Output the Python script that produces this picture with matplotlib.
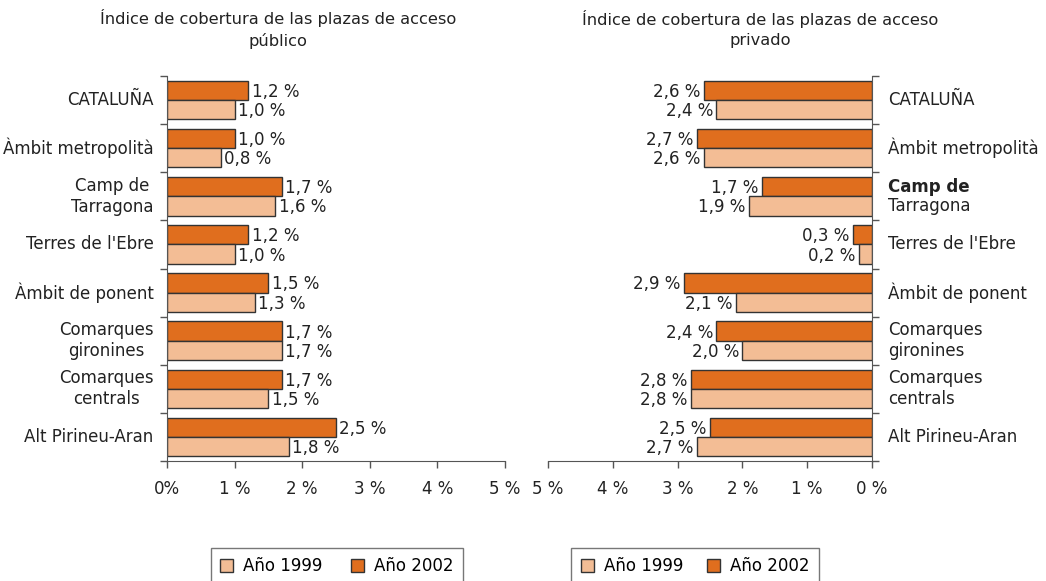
import matplotlib.pyplot as plt
from matplotlib.patches import Patch
import numpy as np

regions = ["CATALUÑA", "Àmbit metropolità", "Camp de\nTarragona", "Terres de l'Ebre",
           "Àmbit de ponent", "Comarques\ngironines", "Comarques\ncentrals", "Alt Pirineu-Aran"]

public_2002 = [1.2, 1.0, 1.7, 1.2, 1.5, 1.7, 1.7, 2.5]
public_1999 = [1.0, 0.8, 1.6, 1.0, 1.3, 1.7, 1.5, 1.8]
private_2002 = [2.6, 2.7, 1.7, 0.3, 2.9, 2.4, 2.8, 2.5]
private_1999 = [2.4, 2.6, 1.9, 0.2, 2.1, 2.0, 2.8, 2.7]

left_ticks = ["0%", "1 %", "2 %", "3 %", "4 %", "5 %"]
right_ticks = ["0 %", "1 %", "2 %", "3 %", "4 %", "5 %"]

c02 = "#E06E1E"
c99 = "#F3BD95"
edge = "#333333"
txt = "#222222"
fs = 12

plt.rcParams["font.family"] = "DejaVu Sans"
fig = plt.figure(figsize=(10.46, 5.81), dpi=100)

ax1 = fig.add_axes([167 / 1046, 1 - 461 / 581, 338 / 1046, 385 / 581])
ax2 = fig.add_axes([548 / 1046, 1 - 461 / 581, 324 / 1046, 385 / 581])

y = np.arange(len(regions))
h = 0.4


def fmt(v):
    return f"{v:.1f}".replace(".", ",") + " %"


for ax, v02, v99, side in [(ax1, public_2002, public_1999, 1), (ax2, private_2002, private_1999, -1)]:
    ax.barh(y - h / 2, v02, height=h, color=c02, edgecolor=edge, linewidth=1)
    ax.barh(y + h / 2, v99, height=h, color=c99, edgecolor=edge, linewidth=1)
    for yy, a, b in zip(y, v02, v99):
        ha = "left" if side > 0 else "right"
        ax.text(a + 0.05, yy - h / 2 + 0.03, fmt(a), ha=ha, va="center", fontsize=fs, color=txt)
        ax.text(b + 0.05, yy + h / 2 + 0.03, fmt(b), ha=ha, va="center", fontsize=fs, color=txt)
    ax.set_xlim(0, 5)
    ax.set_ylim(len(regions) - 0.5, -0.5)
    ax.set_xticks(range(6))
    ax.set_yticks(np.arange(-0.5, len(regions)))
    ax.set_yticklabels([])
    ax.spines["top"].set_visible(False)
    ax.tick_params(axis="both", color="#555555", length=5, width=1, labelsize=fs, labelcolor=txt)
    ax.tick_params(axis="x", pad=9)
    for s in ax.spines.values():
        s.set_color("#555555")

ax1.spines["right"].set_visible(False)
ax1.set_xticklabels(left_ticks)
for yy, name in zip(y, regions):
    ax1.text(-0.2, yy, name, ha="right", va="center", fontsize=fs, color=txt, multialignment="center",
             linespacing=1.2)

ax2.invert_xaxis()
ax2.spines["left"].set_visible(False)
ax2.yaxis.tick_right()
ax2.set_xticklabels(right_ticks)
for yy, name in zip(y, regions):
    if name.startswith("Camp de"):
        ax2.text(-0.25, yy - 0.2, "Camp de", ha="left", va="center", fontsize=fs, color=txt,
                 fontweight="bold")
        ax2.text(-0.25, yy + 0.21, "Tarragona", ha="left", va="center", fontsize=fs, color=txt)
    else:
        ax2.text(-0.25, yy, name, ha="left", va="center", fontsize=fs, color=txt, linespacing=1.2)

fig.text(278 / 1046, 1 - 29 / 581, "Índice de cobertura de las plazas de acceso\npúblico",
         ha="center", va="center", fontsize=11.7, color=txt, linespacing=1.5)
fig.text(760 / 1046, 1 - 29 / 581, "Índice de cobertura de las plazas de acceso\nprivado",
         ha="center", va="center", fontsize=11.7, color=txt, linespacing=1.5)

handles = [Patch(facecolor=c99, edgecolor=edge, label="Año 1999"),
           Patch(facecolor=c02, edgecolor=edge, label="Año 2002")]
for cx, cs in ((337 / 1046, 1.7), (695 / 1046, 1.4)):
    leg = fig.legend(handles=handles, loc="upper center", bbox_to_anchor=(cx, 1 - 548 / 581), ncol=2,
                     fontsize=fs, frameon=True, fancybox=False, edgecolor="#555555",
                     handlelength=0.8, handleheight=0.8, columnspacing=cs, borderpad=0.55,
                     borderaxespad=0, handletextpad=0.6)
    leg.get_frame().set_linewidth(1)

fig.savefig("out.png", dpi=100)
